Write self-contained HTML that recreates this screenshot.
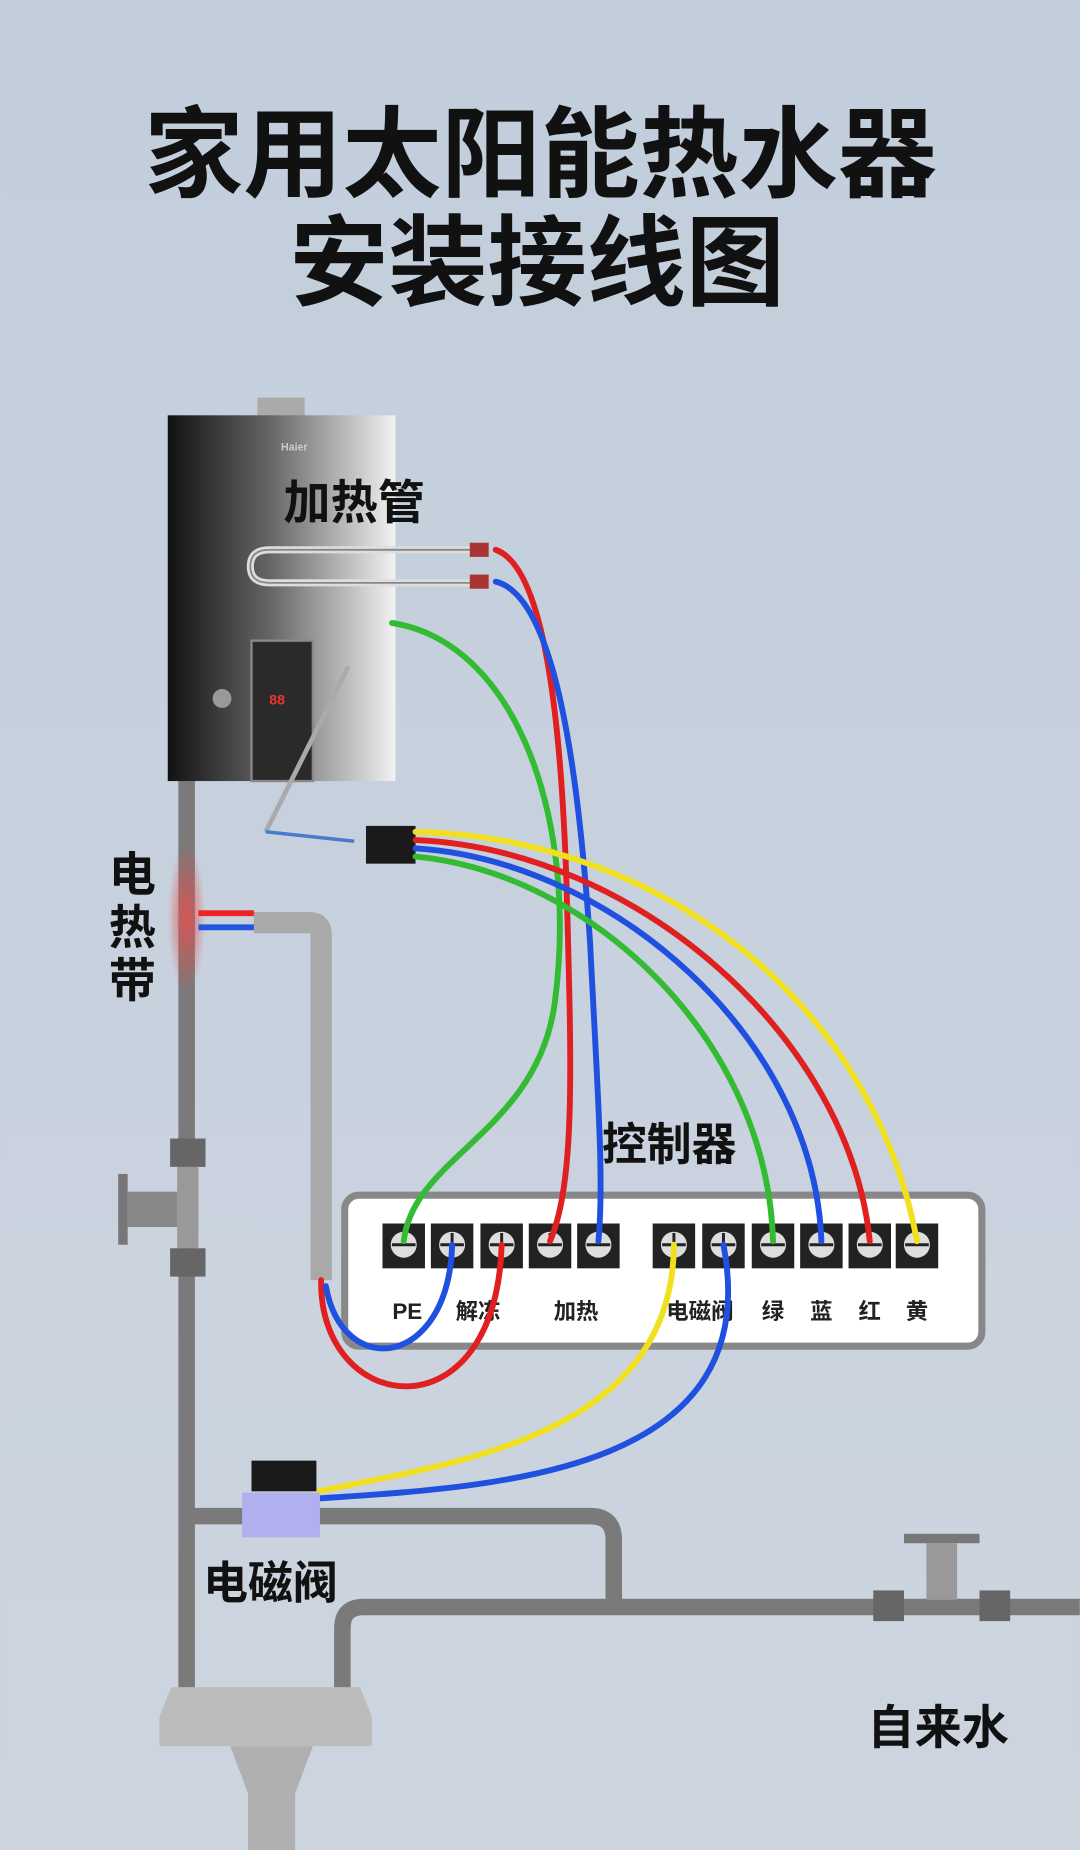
<!DOCTYPE html>
<html><head><meta charset="utf-8"><style>
html,body{margin:0;padding:0;width:1080px;height:1850px;overflow:hidden;background:#c8d2de}
svg{display:block}
text{font-family:"Liberation Sans","Noto Sans CJK SC",sans-serif;font-weight:bold}
</style></head><body>
<svg width="1080" height="1850" viewBox="0 0 915 1568" xmlns="http://www.w3.org/2000/svg">
<defs>
<linearGradient id="bg" x1="0" y1="0" x2="0" y2="1"><stop offset="0" stop-color="#c2cedc"/><stop offset="1" stop-color="#cdd5df"/></linearGradient>
<linearGradient id="heat" x1="0" y1="0" x2="1" y2="0"><stop offset="0" stop-color="#111"/><stop offset="0.45" stop-color="#666"/><stop offset="1" stop-color="#f2f2f2"/></linearGradient>
<radialGradient id="band" cx="0.5" cy="0.5" r="0.5"><stop offset="0" stop-color="#e25050" stop-opacity="0.9"/><stop offset="1" stop-color="#e25050" stop-opacity="0"/></radialGradient>
</defs>
<rect width="915" height="1568" fill="url(#bg)"/>
<text x="458" y="160" font-size="84" text-anchor="middle" fill="#111">家用太阳能热水器</text>
<text x="455" y="252" font-size="84" text-anchor="middle" fill="#111">安装接线图</text>

<g fill="none" stroke="#7a7a7a" stroke-width="14" stroke-linecap="butt">
<path d="M158,590 V1440"/>
<path d="M158,1285 H500 Q520,1285 520,1305 V1358"/>
<path d="M290,1440 V1380 Q290,1362 308,1362 H915"/>
</g>
<circle cx="158" cy="590" r="15" fill="#7a7a7a"/>
<ellipse cx="158" cy="778" rx="16" ry="65" fill="url(#band)"/>
<rect x="144" y="965" width="30" height="24" fill="#666"/>
<rect x="144" y="1058" width="30" height="24" fill="#666"/>
<rect x="150" y="989" width="18" height="69" fill="#999"/>
<rect x="100" y="995" width="8" height="60" fill="#777"/>
<rect x="108" y="1010" width="42" height="30" fill="#888"/>
<rect x="740" y="1348" width="26" height="26" fill="#666"/>
<rect x="830" y="1348" width="26" height="26" fill="#666"/>
<rect x="766" y="1300" width="64" height="8" fill="#777"/>
<rect x="785" y="1308" width="26" height="48" fill="#999"/>
<path d="M145,1430 H305 L315,1455 V1480 H135 V1455 Z" fill="#bcbcbc"/>
<path d="M195,1480 H265 L250,1520 V1568 H210 V1520 Z" fill="#b0b0b0"/>

<rect x="218" y="337" width="40" height="16" fill="#aaa"/>
<rect x="142" y="352" width="193" height="310" fill="url(#heat)"/>
<text x="238" y="382" font-size="9" fill="#ccc" font-weight="normal">Haier</text>
<circle cx="188" cy="592" r="8" fill="#999"/>
<rect x="213" y="543" width="52" height="119" fill="#2a2a2a" stroke="#888" stroke-width="2"/>
<text x="228" y="597" font-size="12" fill="#e33">88</text>
<path d="M295,565 L225,705" stroke="#aaa" stroke-width="4"/>
<path d="M225,705 L300,713" stroke="#4a7acc" stroke-width="3"/>
<text x="240" y="440" font-size="40" fill="#111">加热管</text>
<path d="M400,466 H228 Q212,466 212,480 Q212,494 228,494 H400" fill="none" stroke="#ddd" stroke-width="6"/>
<path d="M400,466 H228 Q212,466 212,480 Q212,494 228,494 H400" fill="none" stroke="#888" stroke-width="1.5"/>
<rect x="398" y="460" width="16" height="12" fill="#a33"/>
<rect x="398" y="487" width="16" height="12" fill="#a33"/>
<rect x="310" y="700" width="42" height="32" fill="#1a1a1a"/>

<path d="M215,782 H262 Q272,782 272,792 V1085" fill="none" stroke="#a9a9a9" stroke-width="18"/>
<path d="M168,774 H215" stroke="#e22" stroke-width="5"/>
<path d="M168,786 H215" stroke="#2255dd" stroke-width="5"/>

<rect x="292" y="1013" width="540" height="128" rx="12" fill="#fff" stroke="#888" stroke-width="6"/>
<g fill="#222">
<rect x="324" y="1037" width="36" height="38"/><rect x="365" y="1037" width="36" height="38"/><rect x="407" y="1037" width="36" height="38"/><rect x="448" y="1037" width="36" height="38"/><rect x="489" y="1037" width="36" height="38"/>
<rect x="553" y="1037" width="36" height="38"/><rect x="595" y="1037" width="36" height="38"/><rect x="637" y="1037" width="36" height="38"/><rect x="678" y="1037" width="36" height="38"/><rect x="719" y="1037" width="36" height="38"/><rect x="759" y="1037" width="36" height="38"/>
</g>
<g fill="#ddd" stroke="#222" stroke-width="2">
<circle cx="342" cy="1055" r="12"/><circle cx="383" cy="1055" r="12"/><circle cx="425" cy="1055" r="12"/><circle cx="466" cy="1055" r="12"/><circle cx="507" cy="1055" r="12"/>
<circle cx="571" cy="1055" r="12"/><circle cx="613" cy="1055" r="12"/><circle cx="655" cy="1055" r="12"/><circle cx="696" cy="1055" r="12"/><circle cx="737" cy="1055" r="12"/><circle cx="777" cy="1055" r="12"/>
</g>
<g stroke="#222" stroke-width="2.5">
<path d="M332,1055h20M342,1045v10M373,1055h20M383,1045v10M415,1055h20M425,1045v10M456,1055h20M466,1045v10M497,1055h20M507,1045v10M561,1055h20M571,1045v10M603,1055h20M613,1045v10M645,1055h20M655,1045v10M686,1055h20M696,1045v10M727,1055h20M737,1045v10M767,1055h20M777,1045v10"/>
</g>
<g font-size="19" fill="#222" text-anchor="middle">
<text x="345" y="1118">PE</text><text x="405" y="1118">解冻</text><text x="488" y="1118">加热</text><text x="593" y="1118">电磁阀</text><text x="655" y="1118">绿</text><text x="696" y="1118">蓝</text><text x="737" y="1118">红</text><text x="777" y="1118">黄</text>
</g>
<text x="510" y="983" font-size="38" fill="#111">控制器</text>

<g fill="none" stroke-width="5" stroke-linecap="round">
<path d="M332,528 C440,545 490,700 470,850 C455,960 350,980 342,1052" stroke="#33bb33"/>
<path d="M420,466 C460,480 475,600 480,750 C484,900 488,1000 466,1052" stroke="#e02020"/>
<path d="M420,493 C470,505 490,650 500,800 C506,920 512,1000 507,1052" stroke="#2050e0"/>
<path d="M352,705 C560,710 740,850 777,1052" stroke="#f0e020"/>
<path d="M352,712 C540,720 720,880 737,1052" stroke="#e02020"/>
<path d="M352,719 C520,730 690,880 696,1052" stroke="#2050e0"/>
<path d="M352,726 C500,740 650,880 655,1052" stroke="#33bb33"/>
<path d="M272,1085 C270,1200 420,1220 425,1055" stroke="#e02020"/>
<path d="M276,1090 C290,1170 380,1160 383,1055" stroke="#2050e0"/>
<path d="M571,1055 C570,1220 380,1240 270,1264" stroke="#f0e020"/>
<path d="M613,1055 C650,1250 420,1260 270,1270" stroke="#2050e0"/>
</g>

<rect x="213" y="1238" width="55" height="26" fill="#1a1a1a"/>
<rect x="205" y="1265" width="66" height="38" fill="#b0b0ee"/>
<text x="172" y="1355" font-size="38" fill="#111">电磁阀</text>
<text x="735" y="1478" font-size="40" fill="#111">自来水</text>
<g font-size="40" fill="#111" text-anchor="middle">
<text x="112" y="755">电</text><text x="112" y="800">热</text><text x="112" y="845">带</text>
</g>
</svg>
</body></html>
